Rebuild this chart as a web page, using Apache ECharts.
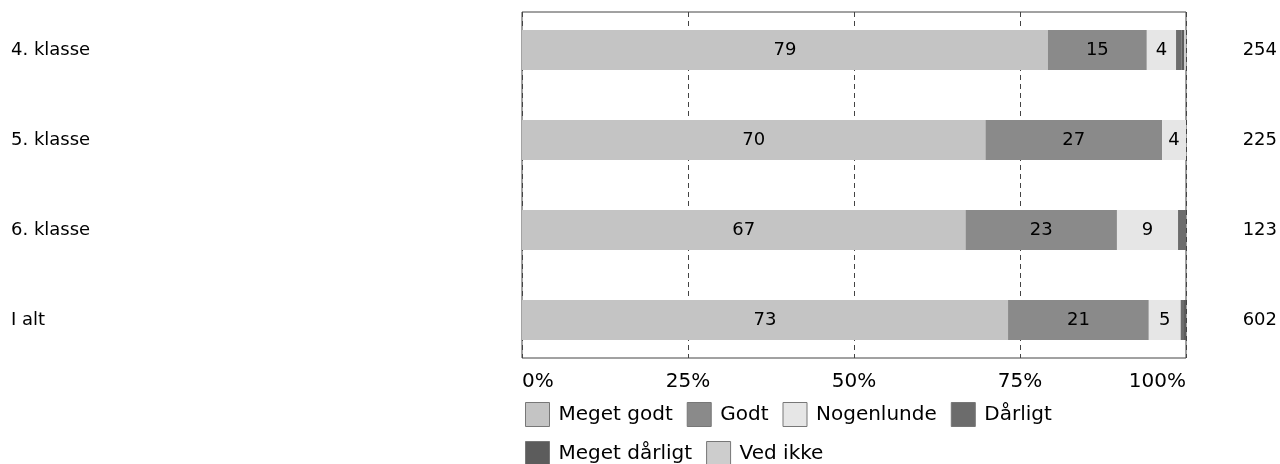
<!DOCTYPE html>
<html>
<head>
<meta charset="utf-8">
<script src="https://cdn.jsdelivr.net/npm/echarts@6/dist/echarts.min.js"></script>
<style>html,body{margin:0;padding:0;background:#fff}#c{width:1280px;height:464px}</style>
</head>
<body>
<div id="c"></div>
<script>
const categories = ['4. klasse', '5. klasse', '6. klasse', 'I alt'];
const counts = [254, 225, 123, 602];
const seriesNames = ['Meget godt', 'Godt', 'Nogenlunde', 'Dårligt', 'Meget dårligt', 'Ved ikke'];
const megetGodt = [79.2, 69.8, 66.8, 73.2];
const godt = [14.9, 26.6, 22.8, 21.2];
const nogenlunde = [4.4, 3.6, 9.2, 4.8];
const daarligt = [0.8, 0, 1.2, 0.5];
const megetDaarligt = [0.4, 0, 0, 0.3];
const vedIkke = [0.3, 0, 0, 0];
const tickLabels = ['0%', '25%', '50%', '75%', '100%'];
const colors = ['#c4c4c4', '#8a8a8a', '#e6e6e6', '#6c6c6c', '#5c5c5c', '#cdcdcd'];

const values = [megetGodt, godt, nogenlunde, daarligt, megetDaarligt, vedIkke];
const FONT = 'DejaVu Sans';

const chart = echarts.init(document.getElementById('c'), null, {renderer: 'canvas'});
chart.setOption({
  animation: false,
  backgroundColor: '#fff',
  grid: [
    {left: 522, right: 94, top: 12, height: 346, show: true, borderColor: '#444', borderWidth: 1, containLabel: false},
    {left: 522, right: 94, top: 5, height: 360, containLabel: false}
  ],
  xAxis: [
    {
      gridIndex: 0, type: 'value', min: 0, max: 100, interval: 25,
      axisLine: {show: false}, axisTick: {show: false},
      axisLabel: {
        margin: 14, fontFamily: FONT, fontSize: 20, color: '#000',
        formatter: (v) => tickLabels[Math.round(v / 25)],
        alignMinLabel: 'left', alignMaxLabel: 'right'
      },
      splitLine: {show: true, lineStyle: {color: '#444', type: [5, 4], width: 1}}
    },
    {gridIndex: 1, type: 'value', min: 0, max: 100, show: false}
  ],
  yAxis: [
    {gridIndex: 0, type: 'category', data: categories, show: false},
    {
      gridIndex: 1, type: 'category', data: categories, inverse: true,
      axisLine: {show: false}, axisTick: {show: false}, splitLine: {show: false},
      axisLabel: {align: 'left', margin: 511, fontFamily: FONT, fontSize: 18, color: '#000'}
    },
    {
      gridIndex: 1, type: 'category', data: counts.map(String), inverse: true, position: 'right',
      axisLine: {show: false}, axisTick: {show: false}, splitLine: {show: false},
      axisLabel: {align: 'right', margin: 91, fontFamily: FONT, fontSize: 18, color: '#000'}
    }
  ],
  legend: [
    {
      data: seriesNames.slice(0, 4), left: 520, top: 397, orient: 'horizontal',
      icon: 'rect', itemWidth: 24, itemHeight: 24, itemGap: 14,
      textStyle: {fontFamily: FONT, fontSize: 20, color: '#000', padding: [0, 0, 0, 4]},
      itemStyle: {borderColor: '#777', borderWidth: 1}
    },
    {
      data: seriesNames.slice(4), left: 520, top: 436, orient: 'horizontal',
      icon: 'rect', itemWidth: 24, itemHeight: 24, itemGap: 14,
      textStyle: {fontFamily: FONT, fontSize: 20, color: '#000', padding: [0, 0, 0, 4]},
      itemStyle: {borderColor: '#777', borderWidth: 1}
    }
  ],
  series: seriesNames.map((name, i) => ({
    name: name, type: 'bar', stack: 'all', xAxisIndex: 1, yAxisIndex: 1,
    barWidth: 40, data: values[i],
    itemStyle: {color: colors[i]},
    label: {
      show: true, position: 'inside', fontFamily: FONT, fontSize: 18, color: '#000',
      formatter: (p) => p.value >= 2 ? String(Math.round(p.value)) : ''
    }
  }))
});
</script>
</body>
</html>
